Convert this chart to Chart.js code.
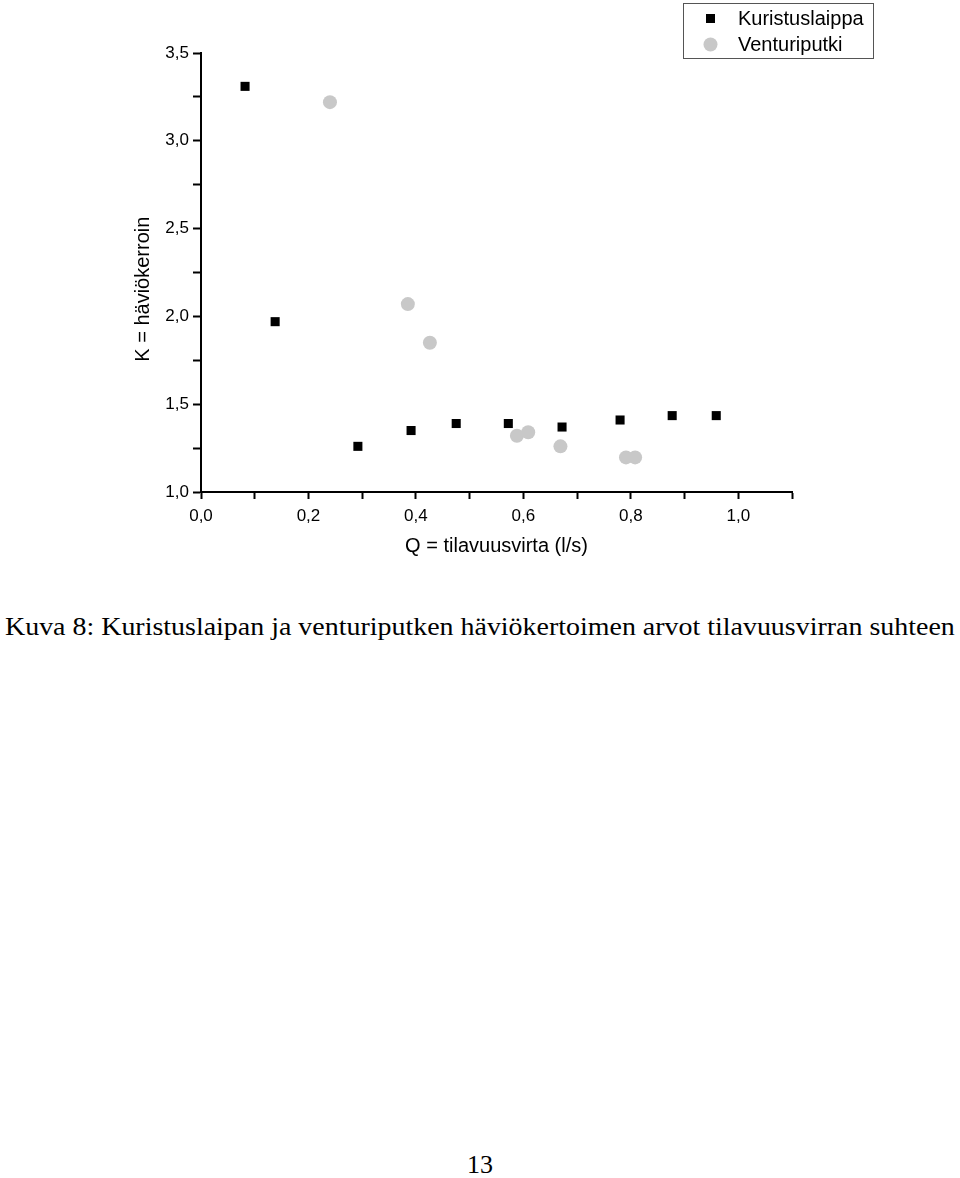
<!DOCTYPE html>
<html>
<head>
<meta charset="utf-8">
<script src="https://cdn.jsdelivr.net/npm/chart.js@4/dist/chart.umd.min.js"></script>
<style>
  body { margin: 0; background: #fff; width: 960px; height: 1178px; position: relative; overflow: hidden; }
  #wrap { position: absolute; left: 0; top: 0; width: 960px; height: 600px; }
  .caption { position: absolute; left: 5px; top: 612px; font-family: "Liberation Serif", "DejaVu Serif", serif; font-size: 26px; color: #000; white-space: nowrap; transform-origin: 0 0; }
  .page { position: absolute; left: 0; width: 960px; top: 1150px; text-align: center; font-family: "Liberation Serif", "DejaVu Serif", serif; font-size: 26px; color: #000; }
</style>
</head>
<body>
<div id="wrap"><canvas id="chart" width="960" height="600"></canvas></div>
<div class="caption" id="caption">Kuva 8: Kuristuslaipan ja venturiputken häviökertoimen arvot tilavuusvirran suhteen</div>
<div class="page">13</div>
<script>
// Kuristuslaippa (orifice plate) measurements
const laippaQ = [0.082, 0.138, 0.292, 0.391, 0.475, 0.572, 0.672, 0.780, 0.877, 0.959];
const laippaK = [3.31, 1.97, 1.26, 1.35, 1.39, 1.39, 1.37, 1.41, 1.435, 1.435];
// Venturiputki measurements
const venturiQ = [0.240, 0.385, 0.426, 0.588, 0.609, 0.669, 0.791, 0.808];
const venturiK = [3.22, 2.07, 1.85, 1.32, 1.34, 1.26, 1.197, 1.197];

const seriesNames = ['Kuristuslaippa', 'Venturiputki'];
const xTitle = 'Q = tilavuusvirta (l/s)';
const yTitle = 'K = häviökerroin';

const fmt = v => v.toFixed(1).replace('.', ',');
const toPoints = (xs, ys) => xs.map((x, i) => ({ x: x, y: ys[i] }));

const grey = '#c8c8c8';

// caption is set in a wide TeX font, stretch it to the same width
const cap = document.getElementById('caption');
cap.style.transform = 'scaleX(' + (950 / cap.offsetWidth) + ')';

// own legend box, the original sits in the top right corner
const boxLegend = {
  id: 'boxLegend',
  afterDraw(chart) {
    const ctx = chart.ctx;
    ctx.save();
    ctx.strokeStyle = '#555';
    ctx.lineWidth = 1;
    ctx.strokeRect(683.5, 3.5, 190, 55);
    ctx.fillStyle = '#000';
    ctx.fillRect(706, 14, 9, 9);
    ctx.fillStyle = grey;
    ctx.beginPath();
    ctx.arc(710.5, 44.5, 7, 0, Math.PI * 2);
    ctx.fill();
    ctx.fillStyle = '#000';
    ctx.font = '20px "Liberation Sans", Arial, sans-serif';
    ctx.textBaseline = 'middle';
    ctx.fillText(seriesNames[0], 738, 19);
    ctx.fillText(seriesNames[1], 738, 45);
    ctx.restore();
  }
};

const tickFont = { family: '"Liberation Sans", Arial, sans-serif', size: 17 };
const titleFont = { family: '"Liberation Sans", Arial, sans-serif', size: 20 };

new Chart(document.getElementById('chart'), {
  type: 'scatter',
  data: {
    datasets: [{
      label: seriesNames[0],
      data: toPoints(laippaQ, laippaK),
      pointStyle: 'rect',
      pointRadius: 6.4,
      backgroundColor: '#000',
      borderWidth: 0,
    }, {
      label: seriesNames[1],
      data: toPoints(venturiQ, venturiK),
      pointStyle: 'circle',
      pointRadius: 7,
      backgroundColor: grey,
      borderWidth: 0,
    }],
  },
  options: {
    responsive: false,
    animation: false,
    events: [],
    layout: { padding: { left: 127, top: 53, right: 168, bottom: 38 } },
    plugins: {
      legend: { display: false },
      tooltip: { enabled: false },
    },
    scales: {
      x: {
        type: 'linear',
        min: 0,
        max: 1.1,
        afterFit: s => { s.height = 70; },
        border: { display: true, color: '#000', width: 2 },
        grid: { drawOnChartArea: false, drawTicks: true, tickLength: 7, tickColor: '#000', tickWidth: 2 },
        ticks: {
          stepSize: 0.1,
          color: '#000',
          font: tickFont,
          padding: 7,
          maxRotation: 0,
          autoSkip: false,
          callback: v => (Math.round(v * 10) % 2 === 0 && v < 1.05) ? fmt(v) : '',
        },
        title: { display: true, text: xTitle, color: '#000', font: titleFont, padding: { top: 0, bottom: 4 } },
      },
      y: {
        type: 'linear',
        min: 1,
        max: 3.5,
        afterFit: s => { s.width = 74; },
        border: { display: true, color: '#000', width: 2 },
        grid: { drawOnChartArea: false, drawTicks: true, tickLength: 8, tickColor: '#000', tickWidth: 2 },
        ticks: {
          stepSize: 0.25,
          color: '#000',
          font: tickFont,
          padding: 4,
          autoSkip: false,
          callback: v => (Math.round(v * 4) % 2 === 0) ? fmt(v) : '',
        },
        // trailing spaces push the visible text a bit down, as in the original
        title: { display: true, text: yTitle + '      ', color: '#000', font: titleFont, padding: { top: 4, bottom: 0 } },
      },
    },
  },
  plugins: [boxLegend],
});
</script>
</body>
</html>
